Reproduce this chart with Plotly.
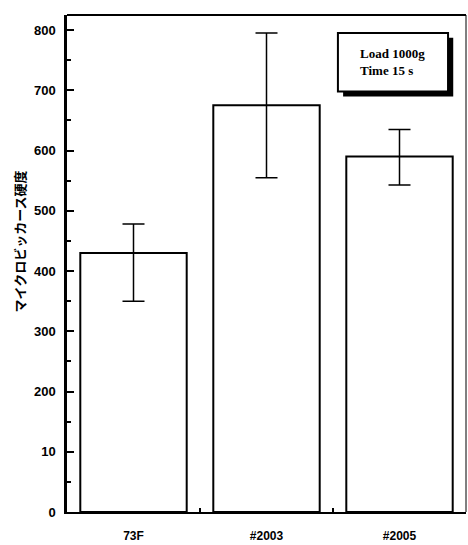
import plotly.graph_objects as go

categories = ["73F", "#2003", "#2005"]
hardness = [430, 675, 590]
err_upper = [478, 795, 635]
err_lower = [350, 555, 543]
ytick_vals = [0, 100, 200, 300, 400, 500, 600, 700, 800]
ytick_text = ["0", "10", "200", "300", "400", "500", "600", "700", "800"]
y_title = "マイクロビッカース硬度"

plus = [u - v for u, v in zip(err_upper, hardness)]
minus = [v - l for v, l in zip(hardness, err_lower)]

fig = go.Figure()
fig.add_trace(go.Bar(
    x=categories, y=hardness,
    marker=dict(color="white", line=dict(color="black", width=2)),
    error_y=dict(type="data", symmetric=False, array=plus, arrayminus=minus,
                 color="black", thickness=1.5, width=11),
    width=0.8,
))

fig.update_layout(
    width=468, height=545,
    margin=dict(l=67, r=2, t=15, b=30),
    plot_bgcolor="white", paper_bgcolor="white",
    showlegend=False,
    font=dict(family="Liberation Sans, Arial", color="black"),
    xaxis=dict(
        range=[-0.5, 2.5], showline=True, linecolor="black", linewidth=2,
        ticks="inside", ticklen=4, tickwidth=1.5, tickcolor="black",
        tickson="boundaries", showgrid=False, ticklabelstandoff=12,
        tickfont=dict(size=12, family="Liberation Sans, Arial", weight="bold"),
    ),
    yaxis=dict(
        range=[0, 825], showline=True, linecolor="black", linewidth=2.5,
        tickmode="array", tickvals=ytick_vals, ticktext=ytick_text,
        ticks="inside", ticklen=7, tickwidth=2, tickcolor="black",
        minor=dict(ticks="inside", ticklen=4, tickwidth=1.5, tickcolor="black", dtick=50, tick0=0),
        showgrid=False, zeroline=False, ticklabelstandoff=6,
        tickfont=dict(size=13, family="Liberation Sans, Arial", weight="bold"),
    ),
    shapes=[
        dict(type="line", xref="paper", yref="paper", x0=0, x1=1, y0=1, y1=1,
             line=dict(color="black", width=2)),
        dict(type="line", xref="paper", yref="paper", x0=1, x1=1, y0=0, y1=1,
             line=dict(color="black", width=1)),
        dict(type="rect", xref="paper", yref="paper", x0=0.692, x1=0.968, y0=0.836, y1=0.954,
             fillcolor="black", line=dict(width=0)),
        dict(type="rect", xref="paper", yref="paper", x0=0.679, x1=0.955, y0=0.846, y1=0.964,
             fillcolor="white", line=dict(color="black", width=2)),
    ],
    annotations=[
        dict(xref="paper", yref="paper", x=0.817, y=0.905, xanchor="center", yanchor="middle",
             showarrow=False,
             text="<b>Load 1000g</b><br><b>Time 15 s</b>", align="left",
             font=dict(family="Liberation Serif, Times New Roman", size=13, color="black")),
        dict(xref="paper", yref="paper", x=-0.118, y=0.544, xanchor="center", yanchor="middle",
             showarrow=False, textangle=-90, text="<b>" + y_title + "</b>",
             font=dict(family="Noto Sans CJK JP", size=13, color="black")),
    ],
)

fig.write_html("out.html")
